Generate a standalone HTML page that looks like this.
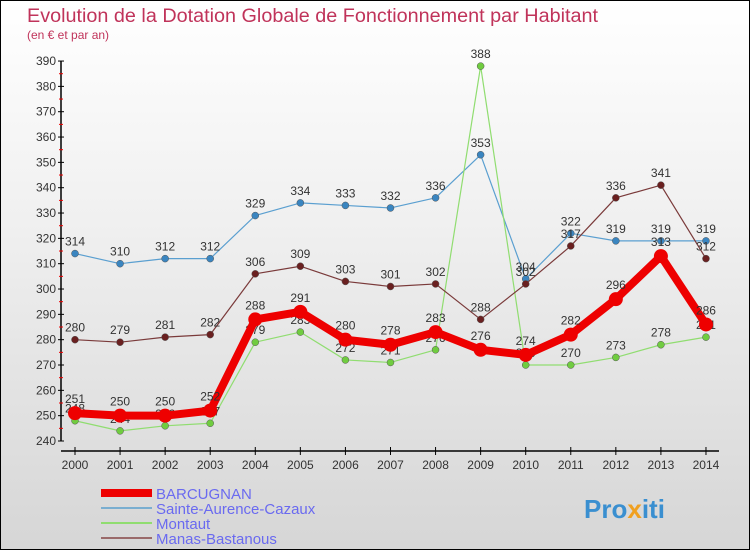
<!DOCTYPE html>
<html><head><meta charset="utf-8"><style>
html,body{margin:0;padding:0}
body{width:750px;height:550px;overflow:hidden;font-family:"Liberation Sans",sans-serif}
#wrap{position:relative;width:748px;height:548px;border:1px solid #000;background:linear-gradient(#ffffff 0%,#f0f0f0 40%,#d6d6d6 100%)}
</style></head><body>
<div id="wrap">
<svg id="chart" width="748" height="548" xmlns="http://www.w3.org/2000/svg">
<text x="26" y="21" font-size="19" fill="#c0335a" textLength="571" lengthAdjust="spacingAndGlyphs">Evolution de la Dotation Globale de Fonctionnement par Habitant</text>
<text x="26" y="38" font-size="12" fill="#c0335a">(en € et par an)</text>
<g id="axes"></g><g id="series"></g><g id="legend"></g>
<text x="583" y="517" font-size="26" font-weight="bold" fill="#3a8fd0">Pro<tspan fill="#f0a020">x</tspan>iti</text>
</svg>
</div>
<script>
const years=[2000,2001,2002,2003,2004,2005,2006,2007,2008,2009,2010,2011,2012,2013,2014];
const yTicks=[240,250,260,270,280,290,300,310,320,330,340,350,360,370,380,390];
const barcugnan=[251,250,250,252,288,291,280,278,283,276,274,282,296,313,286];
const sainte=[314,310,312,312,329,334,333,332,336,353,304,322,319,319,319];
const montaut=[248,244,246,247,279,283,272,271,276,388,270,270,273,278,281];
const manas=[280,279,281,282,306,309,303,301,302,288,302,317,336,341,312];
const NS="http://www.w3.org/2000/svg";
function X(i){return 74+i*45.07;}
function Y(v){return 440-(v-240)*2.533;}
function mk(tag,attrs,parent){const e=document.createElementNS(NS,tag);for(const k in attrs)e.setAttribute(k,attrs[k]);parent.appendChild(e);return e;}
const ax=document.getElementById('axes');
let e=mk('line',{x1:60,y1:Y(390),x2:60,y2:Y(240),stroke:'#000','stroke-width':1.5},ax);


e=mk('line',{x1:60,y1:450,x2:718,y2:450,stroke:'#000','stroke-width':1.5},ax);


yTicks.forEach(v=>{
 mk('line',{x1:57,y1:Y(v),x2:63,y2:Y(v),stroke:'#000'},ax);
 if(v<390) mk('line',{x1:58,y1:Y(v+5),x2:62,y2:Y(v+5),stroke:'#e00'},ax);
 const t=mk('text',{x:55,y:Y(v)+4,'font-size':12,fill:'#333','text-anchor':'end'},ax);t.textContent=v;
 
 
});
years.forEach((yr,i)=>{
 mk('line',{x1:X(i),y1:446,x2:X(i),y2:454,stroke:'#000'},ax);
 const t=mk('text',{x:X(i),y:468,'font-size':12,fill:'#333','text-anchor':'middle'},ax);t.textContent=yr;
 
 
});
const sg=document.getElementById('series');
const S=[
 {n:'sainte',d:sainte,c:'#5a9fd0',dot:'#3a85c0',w:1.2,r:3.5},
 {n:'montaut',d:montaut,c:'#90dd70',dot:'#70cc40',w:1.2,r:3.5},
 {n:'manas',d:manas,c:'#7a3a3a',dot:'#6a2020',w:1.2,r:3.5},
 {n:'barcugnan',d:barcugnan,c:'#ee0000',dot:'#ee0000',w:8,r:7}
];
S.forEach(s=>{
 const g=mk('g',{},sg);
 
 
 const p=mk('polyline',{points:s.d.map((v,i)=>X(i)+','+Y(v)).join(' '),fill:'none',stroke:s.c,'stroke-width':s.w,'stroke-linejoin':'round'},g);
 
 
 s.d.forEach((v,i)=>{
  const c=mk('circle',{cx:X(i),cy:Y(v),r:s.r,fill:s.dot,stroke:s.n==='barcugnan'?'none':'#555','stroke-width':0.5},g);
  
  
  const t=mk('text',{x:X(i),y:Y(v)-(s.n==='barcugnan'?10:8),'font-size':12,fill:'#333','text-anchor':'middle'},g);t.textContent=v;
  
  
 });
});
const lg=document.getElementById('legend');
const L=[['BARCUGNAN','#ee0000',8],['Sainte-Aurence-Cazaux','#7aaed0',2],['Montaut','#90dd70',2],['Manas-Bastanous','#9a6a6a',2]];
L.forEach((l,i)=>{
 const y=492+i*15;
 const g=mk('g',{},lg);
 
 
 mk('line',{x1:100,y1:y,x2:151,y2:y,stroke:l[1],'stroke-width':l[2]},g);
 const t=mk('text',{x:155,y:y+6,'font-size':15,fill:'#6a6af0'},g);t.textContent=l[0];
});
</script>
</body></html>
